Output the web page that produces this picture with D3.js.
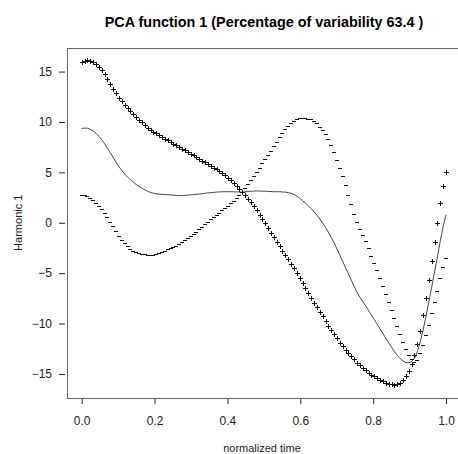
<!DOCTYPE html>
<html>
<head>
<meta charset="utf-8">
<script src="https://cdn.jsdelivr.net/npm/d3@7"></script>
<style>
  body { margin: 0; background: #fff; }
  text { font-family: "Liberation Sans", Arial, Helvetica, sans-serif; }
</style>
</head>
<body>
<div id="chart"></div>
<script>
// tick values
const xTicks = [0, 0.2, 0.4, 0.6, 0.8, 1.0];
const yTicks = [-15, -10, -5, 0, 5, 10, 15];

// mean function (solid line), 128 points on [0, 1]
const meanVals = [
  9.35, 9.4, 9.38, 9.27, 9.1, 8.88, 8.57, 8.24, 7.84, 7.4,
  6.94, 6.47, 6.0, 5.57, 5.18, 4.84, 4.53, 4.26, 4.02, 3.8,
  3.6, 3.43, 3.27, 3.12, 3.0, 2.93, 2.88, 2.84, 2.81, 2.8,
  2.78, 2.76, 2.74, 2.72, 2.7, 2.7, 2.72, 2.74, 2.77, 2.79,
  2.82, 2.85, 2.88, 2.92, 2.96, 2.99, 3.01, 3.04, 3.06, 3.08,
  3.08, 3.08, 3.08, 3.07, 3.06, 3.04, 3.05, 3.07, 3.1, 3.13,
  3.14, 3.16, 3.14, 3.14, 3.14, 3.11, 3.09, 3.08, 3.08, 3.08,
  3.05, 3.04, 2.99, 2.93, 2.81, 2.64, 2.43, 2.19, 1.95, 1.69,
  1.4, 1.09, 0.75, 0.37, -0.05, -0.47, -0.95, -1.46, -2.0, -2.62,
  -3.24, -3.84, -4.46, -5.09, -5.72, -6.33, -6.9, -7.39, -7.83, -8.24,
  -8.71, -9.16, -9.6, -10.07, -10.53, -10.99, -11.46, -11.91, -12.35, -12.78,
  -13.15, -13.48, -13.73, -13.88, -13.9, -13.78, -13.45, -12.8, -11.83, -10.65,
  -9.3, -7.89, -6.4, -4.89, -3.38, -1.79, -0.38, 0.79
];

// mean + harmonic ("+" points)
const plusVals = [
  15.95, 16.05, 16.1, 16.05, 15.95, 15.78, 15.47, 15.15, 14.72, 14.25,
  13.75, 13.28, 12.83, 12.42, 12.05, 11.73, 11.4, 11.1, 10.8, 10.5,
  10.22, 9.95, 9.68, 9.42, 9.2, 9.02, 8.86, 8.68, 8.5, 8.35,
  8.18, 8.02, 7.86, 7.7, 7.53, 7.36, 7.19, 7.02, 6.86, 6.68,
  6.5, 6.33, 6.15, 5.98, 5.81, 5.65, 5.47, 5.3, 5.12, 4.92,
  4.7, 4.45, 4.2, 3.93, 3.65, 3.35, 3.04, 2.72, 2.38, 2.02,
  1.62, 1.24, 0.8, 0.37, -0.05, -0.52, -0.98, -1.44, -1.9, -2.35,
  -2.8, -3.2, -3.62, -4.05, -4.5, -5.0, -5.5, -6.0, -6.47, -6.95,
  -7.45, -7.92, -8.37, -8.82, -9.3, -9.75, -10.2, -10.63, -11.06, -11.48,
  -11.9, -12.27, -12.62, -12.93, -13.25, -13.55, -13.87, -14.15, -14.4, -14.63,
  -14.86, -15.06, -15.25, -15.44, -15.6, -15.73, -15.86, -15.97, -16.05, -16.1,
  -16.05, -15.9, -15.65, -15.25, -14.7, -14.0, -13.1, -12.0, -10.7, -9.2,
  -7.5, -5.67, -3.79, -1.87, 0.0, 1.93, 3.65, 5.07
];

// mean - harmonic ("-" points)
const minusVals = [
  2.75, 2.74, 2.65, 2.48, 2.25, 1.97, 1.67, 1.32, 0.96, 0.55,
  0.12, -0.35, -0.83, -1.28, -1.7, -2.05, -2.35, -2.58, -2.76, -2.9,
  -3.01, -3.09, -3.15, -3.19, -3.2, -3.17, -3.1, -3.0, -2.88, -2.76,
  -2.63, -2.5, -2.38, -2.26, -2.12, -1.95, -1.75, -1.55, -1.33, -1.1,
  -0.87, -0.63, -0.39, -0.14, 0.1, 0.33, 0.55, 0.78, 1.0, 1.23,
  1.46, 1.7, 1.95, 2.2, 2.46, 2.73, 3.05, 3.42, 3.82, 4.23,
  4.65, 5.07, 5.48, 5.9, 6.32, 6.74, 7.16, 7.6, 8.06, 8.5,
  8.9, 9.27, 9.6, 9.9, 10.12, 10.27, 10.36, 10.38, 10.37, 10.33,
  10.25, 10.1, 9.86, 9.55, 9.2, 8.82, 8.3, 7.72, 7.05, 6.25,
  5.43, 4.6, 3.7, 2.75, 1.82, 0.9, 0.08, -0.62, -1.25, -1.85,
  -2.55, -3.25, -3.95, -4.7, -5.45, -6.25, -7.05, -7.85, -8.65, -9.45,
  -10.25, -11.05, -11.8, -12.5, -13.1, -13.55, -13.8, -13.6, -12.95, -12.1,
  -11.1, -10.1, -9.0, -7.9, -6.75, -5.5, -4.4, -3.5
];

// evaluation grid: evenly spaced normalized time
const argvals = d3.range(meanVals.length).map(i => i / (meanVals.length - 1));

const w = 458, h = 454;
const plotLeft = 67.1, plotRight = 460.6, plotTop = 48, plotBottom = 397.5;

const svg = d3.select("#chart").append("svg")
    .attr("width", w)
    .attr("height", h);

const x = d3.scaleLinear().domain([-0.04, 1.04]).range([plotLeft, plotRight]);
const y = d3.scaleLinear().domain([-17.34, 17.34]).range([plotBottom, plotTop]);

// box
svg.append("rect")
    .attr("x", Math.round(plotLeft) + 0.5)
    .attr("y", Math.round(plotTop) + 0.5)
    .attr("width", plotRight - plotLeft)
    .attr("height", Math.round(plotBottom) - Math.round(plotTop))
    .attr("fill", "none")
    .attr("stroke", "#666")
    .attr("shape-rendering", "crispEdges");

// axes
const xAxis = d3.axisBottom(x).tickValues(xTicks).tickSize(5).tickPadding(12.5)
    .tickFormat(d3.format(".1f"));
const yAxis = d3.axisLeft(y).tickValues(yTicks).tickSize(6).tickPadding(7)
    .tickFormat(d3.format("d"));

svg.append("g").attr("transform", "translate(0,399)").call(xAxis)
    .call(g => g.select(".domain").remove())
    .call(g => g.selectAll("text").style("font-size", "12px").attr("fill", "#222"))
    .call(g => g.selectAll("line").attr("stroke", "#222"));

svg.append("g").attr("transform", "translate(65,0)").call(yAxis)
    .call(g => g.select(".domain").remove())
    .call(g => g.selectAll("text").style("font-size", "12px").attr("fill", "#222"))
    .call(g => g.selectAll("line").attr("stroke", "#222"));

// titles
svg.append("text").attr("x", 264).attr("y", 26.5).attr("text-anchor", "middle")
    .style("font-size", "14.4px").style("font-weight", "bold")
    .text("PCA function 1 (Percentage of variability 63.4 )");

svg.append("text").attr("transform", "translate(21.5," + y(0) + ") rotate(-90)")
    .attr("text-anchor", "middle").style("font-size", "11px").attr("fill", "#222")
    .text("Harmonic 1");

svg.append("text").attr("x", 262).attr("y", 452).attr("text-anchor", "middle")
    .style("font-size", "11px").attr("fill", "#222")
    .text("normalized time");

// mean curve
const line = d3.line().x((d, i) => x(argvals[i])).y(d => y(d));
svg.append("path")
    .datum(meanVals)
    .attr("d", line)
    .attr("fill", "none")
    .attr("stroke", "#222")
    .attr("stroke-width", 0.85);

// "+" points
svg.append("g").selectAll("path")
    .data(plusVals)
    .enter()
    .append("path")
    .attr("d", (d, i) => {
        const px = Math.round(x(argvals[i])), py = Math.round(y(d));
        return "M" + (px - 2) + "," + (py + 0.5) + "h5M" + (px + 0.5) + "," + (py - 2) + "v5";
    })
    .attr("stroke", "#111")
    .attr("stroke-width", 1)
    .attr("shape-rendering", "crispEdges");

// "-" points
svg.append("g").selectAll("path")
    .data(minusVals)
    .enter()
    .append("path")
    .attr("d", (d, i) => {
        const px = Math.round(x(argvals[i])), py = Math.round(y(d));
        return "M" + (px - 2) + "," + (py + 0.5) + "h4";
    })
    .attr("stroke", "#111")
    .attr("stroke-width", 1)
    .attr("shape-rendering", "crispEdges");
</script>
</body>
</html>
